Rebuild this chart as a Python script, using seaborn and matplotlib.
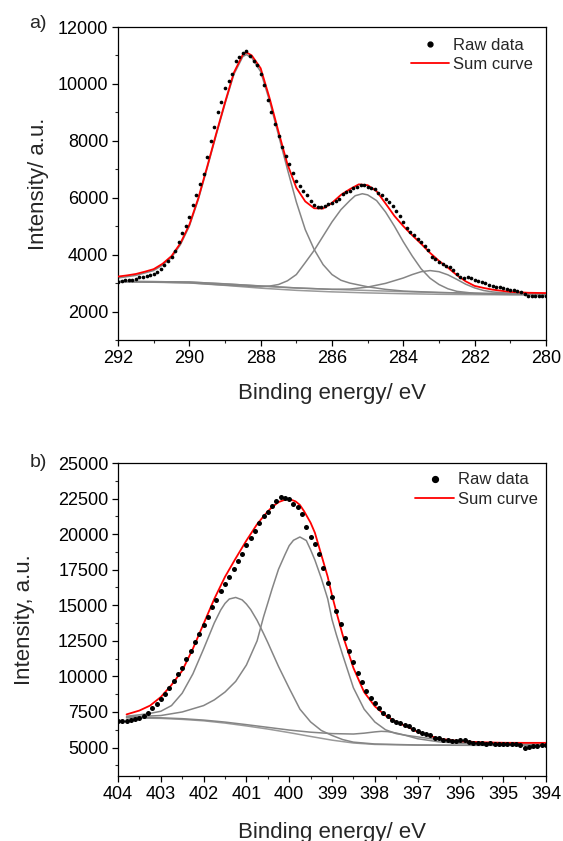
import matplotlib
matplotlib.use('Agg')
import matplotlib.pyplot as plt
from matplotlib.lines import Line2D
from matplotlib.ticker import MultipleLocator
import seaborn as sns

# ---------------- panel a) C 1s ----------------
e_raw_a = [292.0, 291.9, 291.8, 291.7, 291.6, 291.5, 291.4, 291.3, 291.2, 291.1,
           291.0, 290.9, 290.8, 290.7, 290.6, 290.5, 290.4, 290.3, 290.2, 290.1,
           290.0, 289.9, 289.8, 289.7, 289.6, 289.5, 289.4, 289.3, 289.2, 289.1,
           289.0, 288.9, 288.8, 288.7, 288.6, 288.5, 288.4, 288.3, 288.2, 288.1,
           288.0, 287.9, 287.8, 287.7, 287.6, 287.5, 287.4, 287.3, 287.2, 287.1,
           287.0, 286.9, 286.8, 286.7, 286.6, 286.5, 286.4, 286.3, 286.2, 286.1,
           286.0, 285.9, 285.8, 285.7, 285.6, 285.5, 285.4, 285.3, 285.2, 285.1,
           285.0, 284.9, 284.8, 284.7, 284.6, 284.5, 284.4, 284.3, 284.2, 284.1,
           284.0, 283.9, 283.8, 283.7, 283.6, 283.5, 283.4, 283.3, 283.2, 283.1,
           283.0, 282.9, 282.8, 282.7, 282.6, 282.5, 282.4, 282.3, 282.2, 282.1,
           282.0, 281.9, 281.8, 281.7, 281.6, 281.5, 281.4, 281.3, 281.2, 281.1,
           281.0, 280.9, 280.8, 280.7, 280.6, 280.5, 280.4, 280.3, 280.2, 280.1,
           280.0]
v_raw_a = [3050, 3070, 3100, 3120, 3110, 3130, 3200, 3220, 3250, 3270,
           3330, 3390, 3480, 3620, 3780, 3930, 4130, 4450, 4760, 5000,
           5340, 5740, 6080, 6470, 6840, 7420, 8000, 8470, 9000, 9370,
           9870, 10090, 10360, 10800, 10960, 11090, 11170, 10980, 10820, 10650,
           10350, 9950, 9450, 9000, 8600, 8180, 7780, 7450, 7180, 6870,
           6580, 6400, 6240, 6080, 5900, 5760, 5690, 5680, 5720, 5780,
           5820, 5880, 5960, 6120, 6190, 6250, 6330, 6380, 6430, 6440,
           6370, 6330, 6290, 6180, 6080, 5970, 5850, 5700, 5530, 5350,
           5130, 4950, 4800, 4680, 4540, 4430, 4300, 4150, 3920, 3850,
           3730, 3670, 3610, 3580, 3460, 3320, 3230, 3170, 3200, 3190,
           3110, 3080, 3030, 2990, 2940, 2890, 2860, 2870, 2820, 2800,
           2770, 2750, 2720, 2690, 2610, 2560, 2540, 2530, 2540, 2530,
           2540]

e_sum_a = [292.0, 291.75, 291.5, 291.25, 291.0, 290.75, 290.5, 290.25, 290.0,
           289.75, 289.5, 289.25, 289.0, 288.75, 288.5, 288.4, 288.25, 288.0,
           287.75, 287.5, 287.25, 287.0, 286.75, 286.5, 286.25, 286.0, 285.75,
           285.5, 285.25, 285.0, 284.75, 284.5, 284.25, 284.0, 283.75, 283.5,
           283.25, 283.0, 282.75, 282.5, 282.25, 282.0, 281.75, 281.5, 281.25,
           281.0, 280.5, 280.0]
v_sum_a = [3230, 3270, 3320, 3400, 3490, 3680, 3950, 4400, 5050,
           5980, 7090, 8240, 9350, 10400, 11030, 11110, 11000, 10550,
           9500, 8320, 7180, 6350, 5870, 5630, 5620, 5820, 6100,
           6300, 6470, 6440, 6230, 5800, 5360, 5000, 4680, 4380,
           4060, 3780, 3540, 3280, 3060, 2900, 2830, 2770, 2730,
           2690, 2660, 2650]

e_c1_a = [292.0, 291.5, 291.0, 290.75, 290.5, 290.25, 290.0, 289.75, 289.5,
          289.25, 289.0, 288.75, 288.5, 288.4, 288.25, 288.0, 287.75, 287.5,
          287.25, 287.0, 286.75, 286.5, 286.25, 286.0, 285.75, 285.5, 285.0,
          284.5, 284.0, 283.0, 282.0, 281.0, 280.0]
v_c1_a = [3180, 3270, 3440, 3630, 3900, 4350, 5000, 5930, 7040,
          8190, 9300, 10340, 10960, 11030, 10920, 10430, 9400, 8200,
          7000, 5850, 4880, 4180, 3650, 3300, 3100, 3000, 2870,
          2780, 2720, 2670, 2640, 2625, 2615]

e_c2_a = [292.0, 290.0, 289.0, 288.5, 288.0, 287.75, 287.5, 287.25, 287.0,
          286.75, 286.5, 286.25, 286.0, 285.75, 285.5, 285.35, 285.15, 285.0,
          284.75, 284.5, 284.25, 284.0, 283.75, 283.5, 283.25, 283.0, 282.75,
          282.5, 282.0, 281.5, 281.0, 280.0]
v_c2_a = [3050, 3010, 2930, 2900, 2870, 2895, 2950, 3080, 3300,
          3720, 4150, 4650, 5150, 5580, 5900, 6070, 6140, 6100,
          5900, 5500, 5000, 4450, 3950, 3500, 3170, 2950, 2800,
          2710, 2640, 2610, 2600, 2595]

e_c3_a = [292.0, 290.0, 288.0, 287.0, 286.0, 285.5, 285.0, 284.5, 284.0,
          283.75, 283.5, 283.25, 283.0, 282.75, 282.5, 282.25, 282.0, 281.75,
          281.5, 281.0, 280.5, 280.0]
v_c3_a = [3060, 3040, 2900, 2830, 2780, 2790, 2860, 2990, 3180,
          3300, 3400, 3440, 3400, 3290, 3130, 2960, 2830, 2740,
          2690, 2640, 2625, 2615]

e_bg_a = [292.0, 291.0, 290.0, 289.0, 288.0, 287.0, 286.0, 285.0, 284.0,
          283.0, 282.0, 281.0, 280.0]
v_bg_hi_a = [3060, 3052, 3035, 2975, 2895, 2828, 2780, 2740, 2700,
             2668, 2642, 2625, 2615]
v_bg_lo_a = [3050, 3040, 3005, 2920, 2822, 2745, 2692, 2655, 2627,
             2607, 2595, 2589, 2587]

# ---------------- panel b) N 1s ----------------
e_raw_b = [404.0, 403.9, 403.8, 403.7, 403.6, 403.5, 403.4, 403.3, 403.2, 403.1,
           403.0, 402.9, 402.8, 402.7, 402.6, 402.5, 402.4, 402.3, 402.2, 402.1,
           402.0, 401.9, 401.8, 401.7, 401.6, 401.5, 401.4, 401.3, 401.2, 401.1,
           401.0, 400.9, 400.8, 400.7, 400.6, 400.5, 400.4, 400.3, 400.2, 400.1,
           400.0, 399.9, 399.8, 399.7, 399.6, 399.5, 399.4, 399.3, 399.2, 399.1,
           399.0, 398.9, 398.8, 398.7, 398.6, 398.5, 398.4, 398.3, 398.2, 398.1,
           398.0, 397.9, 397.8, 397.7, 397.6, 397.5, 397.4, 397.3, 397.2, 397.1,
           397.0, 396.9, 396.8, 396.7, 396.6, 396.5, 396.4, 396.3, 396.2, 396.1,
           396.0, 395.9, 395.8, 395.7, 395.6, 395.5, 395.4, 395.3, 395.2, 395.1,
           395.0, 394.9, 394.8, 394.7, 394.6, 394.5, 394.4, 394.3, 394.2, 394.1,
           394.0]
v_raw_b = [6850, 6880, 6900, 6950, 7000, 7080, 7200, 7450, 7780, 8080,
           8380, 8780, 9200, 9650, 10150, 10600, 11200, 11800, 12400, 13000,
           13600, 14200, 14850, 15400, 16000, 16500, 17000, 17550, 18100, 18600,
           19250, 19700, 20250, 20750, 21250, 21550, 21950, 22300, 22600, 22550,
           22450, 22100, 21900, 21400, 20500, 19800, 19300, 18600, 17600, 16600,
           15600, 14600, 13700, 12700, 11800, 11000, 10250, 9600, 9000, 8500,
           8150, 7750, 7450, 7200, 6950, 6800, 6700, 6600, 6480, 6300,
           6150, 6050, 5950, 5850, 5700, 5650, 5550, 5520, 5450, 5480,
           5550, 5500, 5400, 5350, 5300, 5320, 5280, 5300, 5250, 5250,
           5220, 5280, 5270, 5250, 5150, 4950, 5050, 5100, 5100, 5150,
           5180]

e_sum_b = [403.8, 403.5, 403.25, 403.0, 402.75, 402.5, 402.25, 402.0, 401.75,
           401.5, 401.25, 401.0, 400.75, 400.6, 400.5, 400.4, 400.25, 400.1,
           400.0, 399.85, 399.75, 399.65, 399.5, 399.4, 399.25, 399.1, 399.0,
           398.9, 398.75, 398.5, 398.25, 398.0, 397.75, 397.5, 397.25, 397.0,
           396.5, 396.0, 395.5, 395.0, 394.5, 394.0]
v_sum_b = [7330, 7600, 7950, 8550, 9400, 10400, 11950, 13700, 15450,
           17000, 18300, 19550, 20700, 21250, 21600, 21900, 22250, 22420,
           22470, 22300, 22050, 21600, 20800, 20100, 18550, 17000, 15700,
           14550, 12900, 10600, 8900, 7900, 7250, 6800, 6480, 6100,
           5620, 5440, 5370, 5335, 5330, 5330]

e_c1_b = [403.8, 403.5, 403.25, 403.0, 402.75, 402.5, 402.25, 402.0, 401.75,
          401.6, 401.5, 401.4, 401.25, 401.1, 401.0, 400.9, 400.75, 400.6,
          400.5, 400.25, 400.0, 399.75, 399.5, 399.25, 399.0, 398.75, 398.5,
          398.0, 397.0, 396.0, 394.0]
v_c1_b = [7200, 7300, 7400, 7550, 7950, 8820, 10180, 11930, 13760,
          14670, 15130, 15440, 15550, 15380, 15085, 14700, 13940, 13020,
          12380, 10700, 9170, 7700, 6800, 6200, 5850, 5560, 5380,
          5250, 5180, 5160, 5150]

e_c2_b = [403.8, 403.0, 402.5, 402.0, 401.75, 401.5, 401.25, 401.0, 400.75,
          400.6, 400.5, 400.4, 400.25, 400.1, 400.0, 399.9, 399.75, 399.6,
          399.5, 399.4, 399.25, 399.1, 399.0, 398.9, 398.75, 398.5, 398.25,
          398.0, 397.75, 397.5, 397.25, 397.0, 396.5, 396.0, 395.0, 394.0]
v_c2_b = [7150, 7250, 7500, 7950, 8350, 8900, 9650, 10800, 12500,
          14180, 15160, 16150, 17530, 18550, 19190, 19570, 19800, 19550,
          18900, 18180, 16900, 15450, 14000, 12950, 11500, 9200, 7700,
          6800, 6250, 5980, 5850, 5750, 5550, 5400, 5250, 5200]

e_c3_b = [403.8, 403.0, 402.5, 402.0, 401.5, 401.0, 400.5, 400.0, 399.5,
          399.0, 398.5, 398.25, 398.0, 397.85, 397.7, 397.5, 397.25, 397.0,
          396.5, 396.0, 395.0, 394.0]
v_c3_b = [7120, 7090, 7030, 6930, 6790, 6610, 6420, 6230, 6080,
          5980, 5950, 6010, 6100, 6140, 6120, 6020, 5830, 5620,
          5400, 5300, 5240, 5220]

e_bg_b = [403.8, 403.0, 402.5, 402.0, 401.5, 401.0, 400.5, 400.0, 399.5,
          399.0, 398.5, 398.0, 397.0, 396.0, 394.0]
v_bg_b = [7080, 7050, 6980, 6880, 6720, 6520, 6300, 6050, 5780,
          5520, 5320, 5220, 5170, 5160, 5150]

# ---------------- style ----------------
sns.set_theme(style='ticks')
plt.rcParams['font.family'] = ['Liberation Sans', 'DejaVu Sans']
plt.rcParams['axes.linewidth'] = 0.9
plt.rcParams['axes.edgecolor'] = 'black'

GRAY = '#858585'
LIGHT = '#9a9a9a'
RED = '#ff0000'

fig = plt.figure(figsize=(5.63, 8.41), dpi=100)
ax_a = fig.add_axes([118 / 563, 1 - 340 / 841, 428 / 563, 313 / 841])
ax_b = fig.add_axes([118 / 563, 1 - 776 / 841, 428 / 563, 313 / 841])


def draw_panel(ax, backgrounds, comps, e_sum, v_sum, e_raw, v_raw, dot_size):
    for e, v in backgrounds:
        sns.lineplot(x=e, y=v, ax=ax, color=LIGHT, lw=1.1, sort=False,
                     estimator=None, legend=False)
    for e, v in comps:
        sns.lineplot(x=e, y=v, ax=ax, color=GRAY, lw=1.1, sort=False,
                     estimator=None, legend=False)
    sns.lineplot(x=e_sum, y=v_sum, ax=ax, color=RED, lw=1.3, sort=False,
                 estimator=None, legend=False, zorder=3)
    sns.scatterplot(x=e_raw, y=v_raw, ax=ax, color='black', s=dot_size,
                    linewidth=0, legend=False, zorder=4)


draw_panel(ax_a,
           [(e_bg_a, v_bg_hi_a), (e_bg_a, v_bg_lo_a)],
           [(e_c1_a, v_c1_a), (e_c2_a, v_c2_a), (e_c3_a, v_c3_a)],
           e_sum_a, v_sum_a, e_raw_a, v_raw_a, 7)
draw_panel(ax_b,
           [(e_bg_b, v_bg_b)],
           [(e_c1_b, v_c1_b), (e_c2_b, v_c2_b), (e_c3_b, v_c3_b)],
           e_sum_b, v_sum_b, e_raw_b, v_raw_b, 13)

ax_a.set_xlim(292, 280)
ax_a.set_ylim(1000, 12000)
ax_a.xaxis.set_major_locator(MultipleLocator(2))
ax_a.xaxis.set_minor_locator(MultipleLocator(1))
ax_a.yaxis.set_major_locator(MultipleLocator(2000))
ax_a.yaxis.set_minor_locator(MultipleLocator(1000))

ax_b.set_xlim(404, 394)
ax_b.set_ylim(3000, 25000)
ax_b.xaxis.set_major_locator(MultipleLocator(1))
ax_b.xaxis.set_minor_locator(MultipleLocator(0.5))
ax_b.yaxis.set_major_locator(MultipleLocator(2500))
ax_b.yaxis.set_minor_locator(MultipleLocator(1250))

for ax in (ax_a, ax_b):
    for sp in ax.spines.values():
        sp.set_visible(True)
        sp.set_color('black')
        sp.set_linewidth(0.9)
    ax.tick_params(which='major', direction='out', length=4, width=0.9,
                   labelsize=13, pad=3, top=False, right=False, colors='black')
    ax.tick_params(which='minor', direction='out', length=2.5, width=0.8,
                   top=False, right=False)
    ax.set_facecolor('white')

ax_a.set_xlabel('Binding energy/ eV', fontsize=16)
ax_a.set_ylabel('Intensity/ a.u.', fontsize=16)
ax_a.xaxis.set_label_coords(0.5, -0.137)
ax_a.yaxis.set_label_coords(-0.161, 0.5)

ax_b.set_xlabel('Binding energy/ eV', fontsize=16)
ax_b.set_ylabel('Intensity, a.u.', fontsize=16)
ax_b.xaxis.set_label_coords(0.5, -0.146)
ax_b.yaxis.set_label_coords(-0.194, 0.5)

handles = [Line2D([], [], marker='o', ls='none', color='black', ms=3.5),
           Line2D([], [], color=RED, lw=1.3)]
labels = ['Raw data', 'Sum curve']
ax_a.legend(handles, labels, loc='upper right', bbox_to_anchor=(0.97, 0.966),
            frameon=False, fontsize=12, borderpad=0, borderaxespad=0,
            handlelength=2.3, handletextpad=0.25, labelspacing=0.25, numpoints=1)
handles_b = [Line2D([], [], marker='o', ls='none', color='black', ms=4.2),
             Line2D([], [], color=RED, lw=1.3)]
ax_b.legend(handles_b, labels, loc='upper right', bbox_to_anchor=(0.981, 0.970),
            frameon=False, fontsize=12, borderpad=0, borderaxespad=0,
            handlelength=2.3, handletextpad=0.25, labelspacing=0.25, numpoints=1)

fig.text(38 / 563, 1 - 23 / 841, 'a)', ha='center', va='center', fontsize=14)
fig.text(38 / 563, 1 - 463 / 841, 'b)', ha='center', va='center', fontsize=14)

fig.savefig('out.png', dpi=100, facecolor='white')
